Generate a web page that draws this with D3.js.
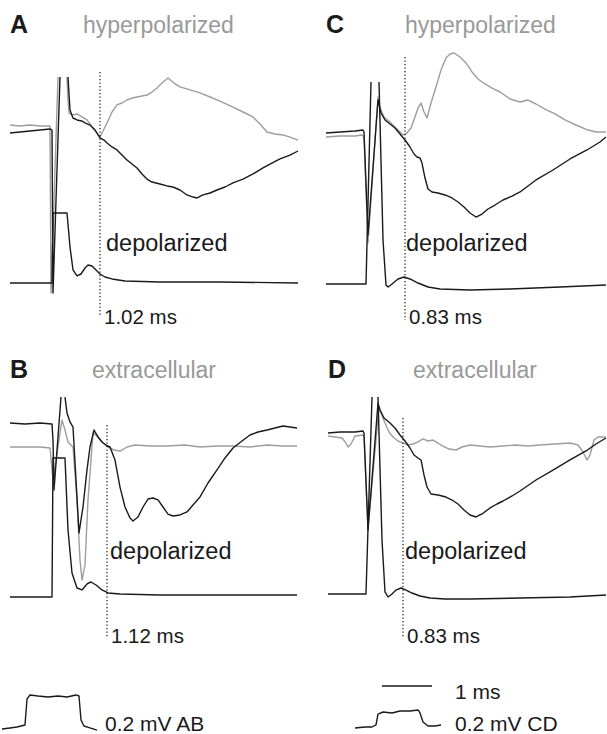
<!DOCTYPE html>
<html>
<head>
<meta charset="utf-8">
<script src="https://cdn.jsdelivr.net/npm/d3@7"></script>
<style>
  body { margin: 0; background: #fff; }
  svg { display: block; font-family: 'Liberation Sans', Arial, sans-serif; }
</style>
</head>
<body>
<div id="chart"></div>
<script>
// traces: [time (ms), voltage (mV)], null = clipped spike top (gap in line)
const grayA = [[0,1.053],[0.2,1.047],[0.4,1.053],[0.6,1.047],[0.8,1.047],[0.82,-0.067],[0.96,1.373],null,
  [1.14,1.373],[1.16,1.22],[1.18,1.133],[1.24,1.12],[1.34,1.127],[1.44,1.107],[1.54,1.087],[1.66,1.033],[1.8,0.973],
  [1.94,1.067],[2.04,1.14],[2.14,1.187],[2.24,1.2],[2.34,1.22],[2.44,1.233],[2.54,1.24],[2.64,1.247],[2.74,1.253],
  [2.84,1.273],[2.94,1.3],[3.04,1.333],[3.16,1.367],[3.28,1.333],[3.4,1.307],[3.6,1.287],[3.8,1.267],[4.0,1.24],
  [4.2,1.213],[4.46,1.173],[4.66,1.14],[4.86,1.107],[5.0,1.06],[5.14,1.007],[5.3,0.993],[5.46,0.987],[5.6,0.973],[5.76,0.953]];
const blackA = [[0,1.0],[0.2,1.007],[0.4,1.013],[0.6,1.02],[0.8,1.027],[0.84,1.02],[0.86,-0.067],[1.0,1.373],null,
  [1.16,1.373],[1.2,1.153],[1.26,1.1],[1.34,1.087],[1.44,1.08],[1.5,1.067],[1.6,1.053],[1.7,1.02],[1.8,0.967],
  [1.88,0.953],[1.94,0.933],[2.04,0.907],[2.14,0.887],[2.24,0.853],[2.34,0.82],[2.44,0.793],[2.54,0.767],[2.64,0.727],
  [2.74,0.693],[2.84,0.673],[3.0,0.66],[3.14,0.647],[3.26,0.64],[3.4,0.62],[3.54,0.587],[3.66,0.573],[3.74,0.567],
  [3.86,0.587],[4.0,0.6],[4.14,0.62],[4.3,0.64],[4.46,0.667],[4.66,0.693],[4.86,0.727],[5.06,0.767],[5.2,0.793],
  [5.4,0.827],[5.6,0.853],[5.76,0.88]];
const depolA = [[0,0],[0.4,0],[0.84,0],[0.86,0.467],[1.14,0.467],[1.2,0.24],[1.26,0.087],[1.34,0.047],[1.42,0.06],
  [1.5,0.1],[1.56,0.12],[1.64,0.113],[1.72,0.087],[1.8,0.06],[1.9,0.04],[2.04,0.027],[2.3,0.013],[3.0,0.007],[4.2,0.007],[5.76,0]];

const grayB = [[0,1.0],[0.3,1.0],[0.6,1.0],[0.8,0.993],[0.86,0.78],[0.92,0.913],[1.04,1.18],[1.1,1.113],[1.16,1.033],
  [1.26,1.0],[1.34,0.647],[1.4,0.247],[1.44,0.113],[1.5,0.213],[1.56,0.647],[1.66,1.093],[1.76,1.067],[1.86,1.027],
  [1.96,1.0],[2.08,0.98],[2.2,0.973],[2.34,1.0],[2.5,1.013],[2.8,1.007],[3.14,1.007],[3.5,1.013],[3.8,1.0],
  [4.14,1.007],[4.46,1.007],[4.8,1.0],[5.14,1.013],[5.46,1.007],[5.74,1.007]];
const blackB = [[0,1.16],[0.3,1.153],[0.6,1.16],[0.84,1.153],[0.86,1.047],[0.88,0.713],[1.02,1.333],null,
  [1.1,1.333],[1.14,1.227],[1.2,1.167],[1.26,1.133],[1.32,0.78],[1.38,0.427],[1.46,0.6],[1.54,0.847],[1.6,1.0],
  [1.68,1.113],[1.76,1.067],[1.84,1.033],[1.92,1.013],[2.0,1.0],[2.1,0.913],[2.2,0.733],[2.3,0.6],[2.4,0.527],
  [2.46,0.507],[2.56,0.533],[2.66,0.6],[2.76,0.653],[2.86,0.66],[2.96,0.647],[3.06,0.6],[3.16,0.553],[3.26,0.54],
  [3.4,0.547],[3.54,0.567],[3.66,0.613],[3.8,0.667],[3.96,0.76],[4.14,0.847],[4.3,0.927],[4.46,0.993],[4.64,1.04],
  [4.8,1.08],[4.96,1.1],[5.14,1.113],[5.3,1.127],[5.46,1.14],[5.6,1.133],[5.74,1.127]];
const depolB = [[0,0],[0.4,0],[0.84,0],[0.86,0.927],[1.1,0.927],[1.16,0.447],[1.24,0.16],[1.34,0.06],[1.44,0.047],
  [1.54,0.087],[1.62,0.1],[1.72,0.08],[1.84,0.047],[1.96,0.027],[2.2,0.02],[3.0,0.013],[4.4,0.013],[5.74,0.013]];

const grayC = [[0,1.96],[0.28,1.973],[0.58,1.973],[0.72,1.987],[0.76,1.96],[0.84,0.547],[1.04,2.493],[1.08,2.347],
  [1.16,2.227],[1.28,2.16],[1.4,2.08],[1.54,1.987],[1.62,2.013],[1.7,2.08],[1.78,2.227],[1.84,2.347],[1.9,2.413],
  [1.96,2.293],[2.02,2.213],[2.1,2.413],[2.2,2.627],[2.3,2.853],[2.4,3.013],[2.48,3.067],[2.56,3.08],[2.68,3.027],
  [2.8,2.947],[2.92,2.827],[3.04,2.733],[3.18,2.667],[3.32,2.613],[3.48,2.56],[3.68,2.467],[3.88,2.427],[4.04,2.453],
  [4.2,2.4],[4.38,2.333],[4.58,2.267],[4.78,2.187],[5.0,2.12],[5.24,2.053],[5.4,2.027],[5.6,2.027]];
const blackC = [[0,2.013],[0.28,2.027],[0.58,2.04],[0.74,2.053],[0.76,2.027],[0.84,0.653],[1.04,2.453],[1.1,2.28],
  [1.18,2.187],[1.28,2.133],[1.38,2.08],[1.48,2.0],[1.58,1.92],[1.68,1.827],[1.76,1.733],[1.82,1.693],[1.88,1.68],
  [1.92,1.613],[1.98,1.413],[2.04,1.267],[2.12,1.227],[2.24,1.213],[2.38,1.187],[2.52,1.147],[2.64,1.093],
  [2.76,1.027],[2.88,0.947],[3.0,0.893],[3.12,0.933],[3.24,1.0],[3.38,1.053],[3.54,1.12],[3.72,1.173],[3.88,1.227],
  [4.2,1.387],[4.54,1.52],[4.88,1.667],[5.22,1.787],[5.48,1.893],[5.6,1.96]];
const depolC = [[0,0],[0.38,0],[0.8,0],[0.9,2.693],null,[1.06,2.693],[1.14,0.587],[1.2,-0.013],[1.24,-0.04],
  [1.32,0],[1.44,0.067],[1.56,0.093],[1.68,0.067],[1.84,0.013],[2.04,-0.04],[2.28,-0.067],[2.88,-0.08],
  [3.68,-0.067],[4.68,-0.04],[5.6,-0.013]];

const grayD = [[0,2.107],[0.14,2.093],[0.28,2.08],[0.36,2.013],[0.4,1.96],[0.46,2.0],[0.54,2.107],[0.7,2.12],
  [0.72,2.093],[0.8,0.893],[1.02,2.493],[1.06,2.413],[1.14,2.28],[1.22,2.16],[1.3,2.093],[1.4,2.04],[1.5,2.013],
  [1.6,1.987],[1.7,2.0],[1.8,2.027],[1.9,2.067],[2.0,2.04],[2.1,2.053],[2.2,2.013],[2.3,1.973],[2.42,1.933],
  [2.56,1.92],[2.68,1.96],[2.84,1.987],[3.04,1.973],[3.24,1.96],[3.5,1.973],[3.74,1.987],[4.0,1.973],[4.24,1.987],
  [4.54,2.0],[4.84,2.013],[5.0,1.987],[5.1,1.893],[5.18,1.787],[5.24,1.853],[5.32,2.053],[5.4,2.093],[5.56,2.093]];
const blackD = [[0,2.147],[0.24,2.16],[0.54,2.16],[0.7,2.173],[0.72,2.147],[0.8,0.853],[1.0,2.547],[1.04,2.453],
  [1.12,2.347],[1.24,2.28],[1.34,2.213],[1.44,2.12],[1.54,2.04],[1.64,1.947],[1.72,1.853],[1.8,1.813],[1.86,1.787],
  [1.92,1.587],[1.98,1.427],[2.06,1.333],[2.2,1.32],[2.36,1.293],[2.48,1.253],[2.6,1.2],[2.72,1.12],[2.84,1.053],
  [2.96,1.027],[3.08,1.067],[3.24,1.147],[3.38,1.2],[3.5,1.24],[3.68,1.307],[3.84,1.373],[4.16,1.52],[4.5,1.653],
  [4.84,1.787],[5.16,1.907],[5.36,2.0],[5.56,2.08]];
const depolD = [[0,0],[0.34,0],[0.76,0],[0.88,2.627],null,[1.0,2.627],[1.08,0.72],[1.14,0.027],[1.2,-0.04],
  [1.28,0],[1.36,0.053],[1.46,0.08],[1.56,0.053],[1.68,0.013],[1.84,-0.027],[2.04,-0.053],[2.34,-0.067],
  [2.84,-0.067],[3.84,-0.053],[4.84,-0.04],[5.56,-0.013]];

// calibration traces (0.2 mV steps) and the 1 ms bar
const calAB = [[0,0],[0.16,0.007],[0.3,0.013],[0.46,0.027],[0.5,0.2],[0.56,0.227],[0.72,0.22],[0.92,0.213],
  [1.12,0.22],[1.3,0.213],[1.48,0.227],[1.54,0.22],[1.58,0.06],[1.64,0.02],[1.76,0.007],[1.9,-0.007]];
const calCD = [[0,-0.013],[0.2,0],[0.34,0],[0.42,0.027],[0.46,0.173],[0.56,0.2],[0.74,0.187],[0.9,0.213],
  [1.1,0.213],[1.26,0.227],[1.3,0.187],[1.36,0.067],[1.46,0.013],[1.6,0.013],[1.72,0.027]];
const timeBar = [[0,0],[1,0]];

const titles = ['hyperpolarized', 'extracellular', 'hyperpolarized', 'extracellular'];
const latencies = ['1.02 ms', '1.12 ms', '0.83 ms', '0.83 ms'];
const markerTimes = [1.8, 1.94, 1.58, 1.5];

const width = 607, height = 734;
const pxPerMs = 50;

const panels = [
  { id: 'A', left: 10, base: 283, pxPerMv: 150, gray: grayA, black: blackA, depol: depolA,
    titleY: 33, depolY: 251, latY: 324, dot: [1.407, -0.213], titleX: 83, depolX: 106 },
  { id: 'B', left: 10, base: 597, pxPerMv: 150, gray: grayB, black: blackB, depol: depolB,
    titleY: 378, depolY: 559, latY: 643, dot: [1.147, -0.267], titleX: 92, depolX: 110 },
  { id: 'C', left: 326, base: 284, pxPerMv: 75, gray: grayC, black: blackC, depol: depolC,
    titleY: 33, depolY: 251, latY: 324, dot: [3.027, -0.48], titleX: 405, depolX: 406 },
  { id: 'D', left: 328, base: 594, pxPerMv: 75, gray: grayD, black: blackD, depol: depolD,
    titleY: 378, depolY: 559, latY: 643, dot: [2.347, -0.573], titleX: 413, depolX: 405 },
];

const svg = d3
  .select('#chart')
  .append('svg')
  .attr('width', width)
  .attr('height', height);

function drawTrace(g, data, x, y, color) {
  const line = d3
    .line()
    .defined((d) => d !== null)
    .x((d) => x(d[0]))
    .y((d) => y(d[1]));
  g.append('path')
    .datum(data)
    .attr('fill', 'none')
    .attr('stroke', color)
    .attr('stroke-width', 1.4)
    .attr('stroke-linejoin', 'round')
    .attr('d', line);
}

panels.forEach((p, i) => {
  const x = d3.scaleLinear().domain([0, 6]).range([p.left, p.left + 6 * pxPerMs]);
  const y = d3.scaleLinear().domain([0, 1]).range([p.base, p.base - p.pxPerMv]);
  const g = svg.append('g');

  // traces, gray under black
  drawTrace(g, p.gray, x, y, '#9d9d9d');
  drawTrace(g, p.black, x, y, '#1a1a1a');
  drawTrace(g, p.depol, x, y, '#1a1a1a');

  // dotted latency marker
  g.append('line')
    .attr('x1', x(markerTimes[i]))
    .attr('x2', x(markerTimes[i]))
    .attr('y1', y(p.dot[0]))
    .attr('y2', y(p.dot[1]))
    .style('stroke', '#222')
    .style('stroke-width', '1.3px')
    .style('stroke-dasharray', '1.3,2.2');

  // labels
  g.append('text')
    .attr('x', p.left)
    .attr('y', p.titleY)
    .text(p.id)
    .style('font-weight', 'bold')
    .style('font-size', '25px')
    .style('fill', '#1a1a1a');

  g.append('text')
    .attr('x', p.titleX)
    .attr('y', p.titleY)
    .text(titles[i])
    .style('font-size', '23px')
    .style('fill', '#999');

  g.append('text')
    .attr('x', p.depolX)
    .attr('y', p.depolY)
    .text('depolarized')
    .style('font-size', '23.5px')
    .style('fill', '#1a1a1a');

  g.append('text')
    .attr('x', x(markerTimes[i]) + 4)
    .attr('y', p.latY)
    .text(latencies[i])
    .style('font-size', '20.5px')
    .style('fill', '#1a1a1a');
});

// calibration bars
const calX = d3.scaleLinear().domain([0, 1]).range([0, pxPerMs]);
const calAbY = d3.scaleLinear().domain([0, 1]).range([0, -150]);
const calCdY = d3.scaleLinear().domain([0, 1]).range([0, -75]);

const gAB = svg.append('g').attr('transform', 'translate(2,729)');
drawTrace(gAB, calAB, calX, calAbY, '#1a1a1a');

const gCD = svg.append('g').attr('transform', 'translate(355,727)');
drawTrace(gCD, calCD, calX, calCdY, '#1a1a1a');

const gMs = svg.append('g').attr('transform', 'translate(382,686)');
drawTrace(gMs, timeBar, calX, calCdY, '#1a1a1a');

svg.append('text')
  .attr('x', 105)
  .attr('y', 731)
  .text('0.2 mV AB')
  .style('font-size', '21px')
  .style('fill', '#1a1a1a');

svg.append('text')
  .attr('x', 455)
  .attr('y', 699)
  .text('1 ms')
  .style('font-size', '21px')
  .style('fill', '#1a1a1a');

svg.append('text')
  .attr('x', 455)
  .attr('y', 731)
  .text('0.2 mV CD')
  .style('font-size', '21px')
  .style('fill', '#1a1a1a');
</script>
</body>
</html>
